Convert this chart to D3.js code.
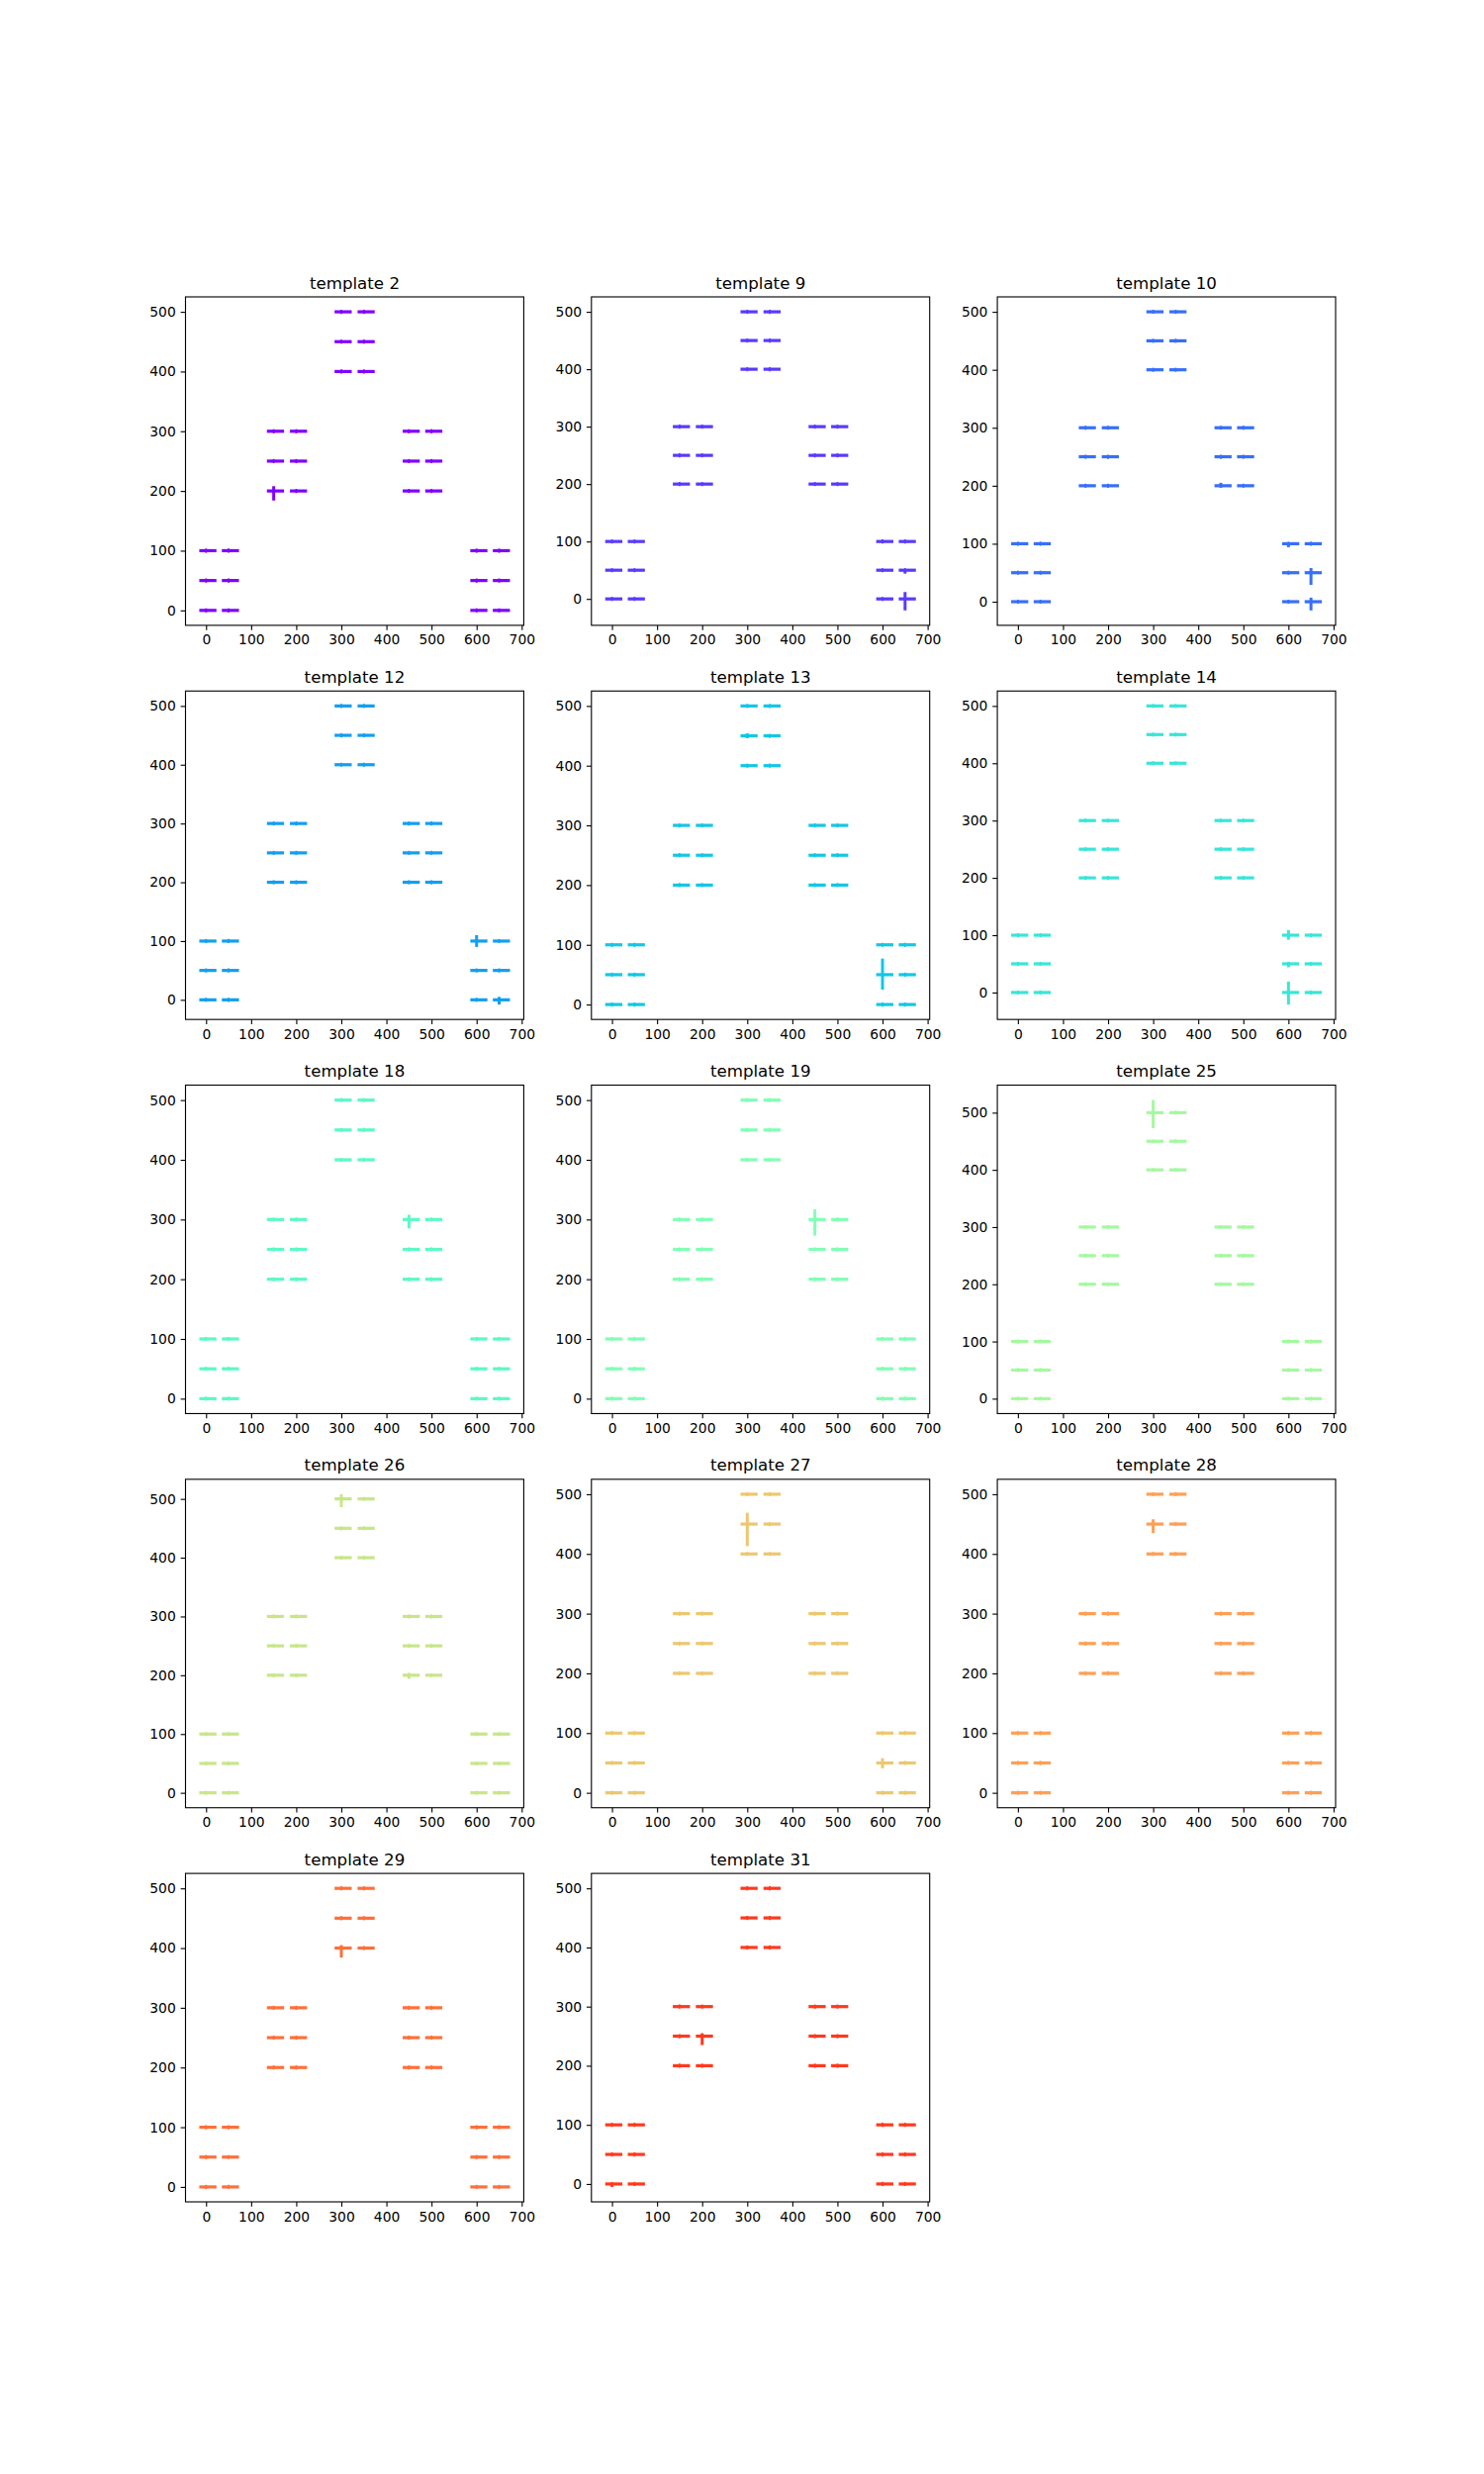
<!DOCTYPE html>
<html><head><meta charset="utf-8">
<script src="https://cdn.jsdelivr.net/npm/d3@7"></script>
<style>body{margin:0;background:#fff}</style></head>
<body>
<script>
// ---------------- DATA ----------------
const templates = [2, 9, 10, 12, 13, 14, 18, 19, 25, 26, 27, 28, 29, 31];
// nominal x of each target (where spikes occur) per group
const groupNominalX = [[0, 50], [150, 200], [300, 350], [450, 500], [600, 650]];
// measured centre of each horizontal stroke
const groupCenterX = [[4, 54], [154, 205], [304, 355], [455, 505], [605, 655]];
const groupY = [[0, 50, 100], [200, 250, 300], [400, 450, 500], [200, 250, 300], [0, 50, 100]];
const strokeHalfWidth = 15.5;   // horizontal half-extent (data units)
const bumpSize = 2;             // tiny vertical jitter on every stroke (data units)
// vertical excursions: [x, y, up, down]
const spikes_t2  = [[150, 200, 8, 16]];
const spikes_t9  = [[650, 0, 12, 20], [650, 50, 2, 6]];
const spikes_t10 = [[650, 50, 8, 21], [650, 0, 7, 15], [600, 100, 2, 6], [450, 200, 5, 3]];
const spikes_t12 = [[600, 100, 10, 10], [650, 0, 5, 8]];
const spikes_t13 = [[600, 50, 27, 25], [300, 450, 4, 4]];
const spikes_t14 = [[600, 100, 9, 8], [600, 0, 19, 21], [600, 50, 3, 6]];
const spikes_t18 = [[450, 300, 8, 15]];
const spikes_t19 = [[450, 300, 17, 27]];
const spikes_t25 = [[300, 500, 22, 27]];
const spikes_t26 = [[300, 500, 8, 14], [450, 200, 4, 6]];
const spikes_t27 = [[300, 450, 19, 37], [600, 50, 8, 9]];
const spikes_t28 = [[300, 450, 8, 15]];
const spikes_t29 = [[300, 400, 5, 16]];
const spikes_t31 = [[200, 250, 5, 15], [0, 0, 1, 5]];
const spikeLists = [spikes_t2, spikes_t9, spikes_t10, spikes_t12, spikes_t13, spikes_t14,
  spikes_t18, spikes_t19, spikes_t25, spikes_t26, spikes_t27, spikes_t28, spikes_t29, spikes_t31];
const xTicks = [0, 100, 200, 300, 400, 500, 600, 700];
const yTicks = [0, 100, 200, 300, 400, 500];

// ---------------- LAYOUT ----------------
const W = 1500, H = 2500;
const svg = d3.select("body").append("svg").attr("width", W).attr("height", H)
  .style("font-family", "'DejaVu Sans', sans-serif");
svg.append("rect").attr("width", W).attr("height", H).attr("fill", "#fff");
const L = 0.125 * W, R = 0.9 * W, T = 0.12 * H, B = 0.89 * H;
const ncol = 3, nrow = 5, wsp = 0.2, hsp = 0.2;
const aw = (R - L) / (ncol + wsp * (ncol - 1)), gx = aw * wsp;
const ah = (B - T) / (nrow + hsp * (nrow - 1)), gy = ah * hsp;
const pt = 100 / 72;

function rainbow(t) {
  const c = v => Math.round(255 * Math.max(0, Math.min(1, v)));
  return d3.rgb(c(Math.abs(2 * t - 0.5)), c(Math.sin(Math.PI * t)), c(Math.cos(Math.PI * t / 2))).formatHex();
}

// marks
const marks = [];
groupY.forEach((ys, g) => {
  groupNominalX[g].forEach((nx, j) => {
    ys.forEach(y => marks.push({nx, cx: groupCenterX[g][j], y}));
  });
});

templates.forEach((tpl, i) => {
  const row = Math.floor(i / ncol), col = i % ncol;
  const ox = L + col * (aw + gx), oy = T + row * (ah + gy);
  const color = rainbow(i / 14);
  const spikes = spikeLists[i];

  // domains with 5% margins (matplotlib style)
  let x0 = d3.min(marks, m => m.cx - strokeHalfWidth), x1 = d3.max(marks, m => m.cx + strokeHalfWidth);
  let y0 = d3.min(marks, m => m.y), y1 = d3.max(marks, m => m.y);
  spikes.forEach(s => { y0 = Math.min(y0, s[1] - s[3]); y1 = Math.max(y1, s[1] + s[2]); });
  const mx = 0.05 * (x1 - x0), my = 0.05 * (y1 - y0);
  const x = d3.scaleLinear().domain([x0 - mx, x1 + mx]).range([0, aw]);
  const y = d3.scaleLinear().domain([y0 - my, y1 + my]).range([ah, 0]);

  const gA = svg.append("g").attr("transform", `translate(${ox},${oy})`);

  const gm = gA.append("g").attr("stroke", color).attr("stroke-width", 3.2)
    .attr("stroke-linecap", "square").attr("fill", "none");
  gm.selectAll("line.h").data(marks).join("line").attr("class", "h")
    .attr("x1", m => x(m.cx - strokeHalfWidth)).attr("x2", m => x(m.cx + strokeHalfWidth))
    .attr("y1", m => y(m.y)).attr("y2", m => y(m.y));
  gm.selectAll("line.b").data(marks).join("line").attr("class", "b")
    .attr("stroke-width", 1.8)
    .attr("x1", m => x(m.nx)).attr("x2", m => x(m.nx))
    .attr("y1", m => y(m.y - bumpSize)).attr("y2", m => y(m.y + bumpSize));
  gm.selectAll("line.s").data(spikes).join("line").attr("class", "s")
    .attr("stroke-width", 3).attr("stroke-linecap", "butt")
    .attr("x1", s => x(s[0])).attr("x2", s => x(s[0]))
    .attr("y1", s => y(s[1] - s[3])).attr("y2", s => y(s[1] + s[2]));

  // axes
  const fs = 10 * pt, tl = 3.5 * pt;
  const ax = gA.append("g").attr("transform", `translate(0,${ah})`)
    .call(d3.axisBottom(x).tickValues(xTicks.filter(v => v >= x.domain()[0] && v <= x.domain()[1]))
      .tickSize(tl).tickPadding(tl).tickSizeOuter(0));
  const ay = gA.append("g")
    .call(d3.axisLeft(y).tickValues(yTicks.filter(v => v >= y.domain()[0] && v <= y.domain()[1]))
      .tickSize(tl).tickPadding(tl).tickSizeOuter(0));
  [ax, ay].forEach(a => {
    a.select(".domain").remove();
    a.selectAll("line").attr("stroke", "#000").attr("stroke-width", 0.8 * pt);
    a.selectAll("text").attr("font-size", fs).attr("fill", "#000").attr("font-family", "'DejaVu Sans', sans-serif");
  });

  gA.append("rect").attr("width", aw).attr("height", ah).attr("fill", "none")
    .attr("stroke", "#000").attr("stroke-width", 0.8 * pt);

  gA.append("text").attr("x", aw / 2).attr("y", -6 * pt).attr("text-anchor", "middle")
    .attr("font-size", 12 * pt).attr("fill", "#000").text("template " + tpl);
});
</script>
</body></html>
